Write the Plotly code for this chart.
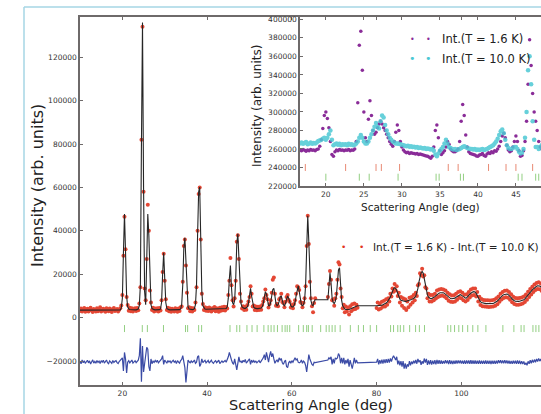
import numpy as np
import plotly.graph_objects as go

# ---------------- main pattern: 2-theta sampling (start, step) per measured segment -------------
SEG_A_START, SEG_B_START, SEG_C_START, STEP = 10.0, 68.5, 80.0, 0.25

calc_a = [3500,3500,3500,3500,3500,3500,3500,3500,
          3500,3500,3500,3500,3500,3500,3500,3500,
          3500,3500,3500,3500,3500,3500,3500,3500,
          3500,3500,3500,3500,3500,3500,3500,3500,
          3500,3500,3500,3500,3500,3500,3600,4500,
          9000,30000,47800,30000,10000,5000,4000,3800,
          3700,3700,3600,3600,3600,3600,3700,4000,
          5500,15000,80000,136000,60000,12000,6000,25000,
          47800,38000,14000,6000,4200,3800,3700,3600,
          3600,3600,3600,3700,4000,7000,20000,29900,
          18000,7000,4200,3800,3700,3600,3600,3600,
          3600,3600,3600,3600,3600,3600,3700,4000,
          6000,15000,32000,36800,25000,10000,5000,4000,
          3800,3700,3700,3800,4200,6000,15000,38000,
          58000,60200,35000,12000,5500,4300,4000,3900,
          3900,3900,3900,3900,3900,3900,3900,3900,
          3900,3900,3900,3900,3900,3900,4000,4100,
          4100,4100,4200,5000,9000,18000,24000,14000,
          7000,6000,8000,18000,34000,38600,26000,12000,
          6500,5000,4500,4300,4300,4500,5000,6500,
          10000,13500,10000,6000,4800,4400,4200,4200,
          4200,4200,4300,4500,5000,6500,9500,12000,
          11000,7500,5500,5500,7000,10000,13000,13500,
          10000,6500,5500,6000,7500,9500,10000,8000,
          6000,5500,6500,8500,10000,9000,6500,5500,
          5000,5000,5500,7000,10000,13500,14700,12000,
          8000,6000,5500,6000,8000,15000,32000,46900,
          35000,15000,8000,6000,5500,7500,8300]
obs_a = [3100,4200,2900,3800,4500,2700,3600,4100,
         2800,3900,4600,3300,2600,4000,3500,2900,
         4300,3000,3700,4800,2800,3400,4100,3200,
         2700,4400,3600,3000,4200,3800,2600,3900,
         4500,3100,3400,4000,2900,3700,4300,5600,
         10500,28500,46500,31500,9500,5800,3200,4600,
         3000,4400,2800,3900,4300,3100,4500,3400,
         6500,14000,82000,134000,58000,13500,8000,27000,
         52000,40000,12500,7000,3500,4600,2900,4200,
         3200,4300,2800,4500,3300,8000,21000,29500,
         17000,8500,3500,4600,3000,4200,2700,4100,
         3300,2900,4400,3800,2700,4200,3100,4800,
         5200,16500,33000,36000,24000,11500,4300,4800,
         3000,4500,2900,4400,3600,7000,14000,40000,
         57000,60000,36000,11000,6300,3500,4800,3200,
         4500,3100,4700,3300,2800,4400,3600,4900,
         3000,4300,3500,2700,4600,3200,4800,3400,
         5000,3300,4900,4200,10500,17000,27500,15000,
         8000,5200,9000,17000,35000,38000,27000,11000,
         7500,4200,5300,3500,5000,3700,5800,7500,
         9500,14500,11000,5200,5600,3600,5100,3400,
         5000,3500,5200,3700,5800,7500,9000,13000,
         10500,8500,4700,6300,8000,11500,17500,18500,
         11000,5500,6400,5300,8500,9000,11000,7200,
         6800,4800,7300,9500,10500,8200,7300,4700,
         5800,4300,6300,8000,11000,14500,14000,12800,
         7200,6800,4800,6900,9000,14500,33000,47000,
         34000,16500,9000,5300,2500,6800,9000]
diff_a = [-20000,-21200,-19500,-20800,-19800,-21000,-20300,-19600,
          -20800,-19900,-21300,-20200,-19400,-20900,-20100,-21000,
          -19700,-20600,-20000,-21100,-19800,-20500,-19600,-20900,
          -20400,-19500,-20700,-21200,-19900,-20300,-21000,-19700,
          -20600,-20100,-19800,-20700,-21100,-20200,-19700,-19000,
          -18500,-24500,-16000,-19000,-25500,-20500,-19800,-20800,
          -20100,-19500,-20900,-20300,-19800,-20700,-20000,-19600,
          -17500,-9500,-29500,-13000,-25000,-20000,-16500,-13600,
          -14500,-22500,-24500,-19000,-21200,-20000,-20600,-19700,
          -20400,-19600,-20800,-20200,-19700,-19000,-17500,-21500,
          -19500,-20300,-21000,-19700,-20400,-19900,-20800,-20100,
          -19600,-20500,-20000,-21100,-19800,-20400,-20900,-19700,
          -19200,-17500,-20000,-23000,-29800,-24500,-19500,-20300,
          -20800,-19900,-20600,-20200,-19500,-21000,-20500,-18000,
          -17500,-22500,-21500,-19000,-20700,-20100,-19600,-20800,
          -20300,-19700,-20900,-20100,-19600,-20600,-21000,-20200,
          -19800,-20700,-20300,-19600,-21100,-20400,-19900,-20600,
          -20200,-19700,-20500,-19500,-18000,-16000,-18500,-19500,
          -20800,-21500,-19000,-22000,-24000,-21000,-18000,-20500,
          -20000,-20800,-19600,-20400,-19200,-20900,-20300,-19700,
          -19000,-21500,-19500,-20600,-19800,-20500,-20000,-20800,
          -20300,-19700,-20800,-20100,-19400,-18500,-17000,-19500,
          -16000,-18500,-20500,-17500,-15500,-18000,-16500,-19000,
          -21000,-20000,-19500,-20500,-18500,-19500,-18800,-20800,
          -21500,-20300,-19500,-22500,-23000,-20800,-20000,-21000,
          -19800,-20500,-19500,-18500,-19500,-19000,-20500,-20800,
          -20500,-19500,-21000,-20000,-20500,-22000,-25000,-19500,
          -17000,-19000,-20500,-21500,-22000,-20500,-20700]

calc_b = [8300,14000,20700,16000,9000,7000,6500,7500,
          10000,16000,22000,23000,15000,8000,5500,4500,
          4000,3800,3700,3700,3800,4000,4200,4500,
          4800,5000,5000,5200,5500]
obs_b = [9500,15500,21500,17500,8000,8500,5500,9000,
         11000,17500,25500,24500,13500,9500,4300,6000,
         2500,5200,2800,4600,1500,5300,3000,6200,
         3800,6500,4000,6000,4600]
diff_b = [-19500,-18500,-19000,-18000,-21500,-19000,-21000,-18500,
          -19000,-18500,-16500,-17500,-21000,-18500,-21000,-18500,
          -21500,-19500,-21000,-19000,-22500,-19500,-21000,-23500,
          -21000,-18500,-21000,-19500,-20800]

calc_c = [5500,5500,5500,5600,5700,5800,6000,6200,
          6500,6800,7200,7800,8500,9500,10800,12200,
          13300,13800,13500,12500,11000,9500,8500,8000,
          7800,7600,7500,7500,7600,7700,7800,8000,
          8200,8400,8600,8900,9300,10000,11500,13500,
          16500,19000,20700,21300,20500,18000,15000,12500,
          10500,9500,9000,8800,8800,9000,9300,9700,
          10100,10600,11000,11300,11500,11600,11600,11500,
          11200,10800,10300,9800,9300,9000,8800,8700,
          8700,8800,9000,9400,9800,10200,10500,10600,
          10400,10000,9500,9100,9000,9200,9600,10200,
          10800,11300,11700,11900,12000,11800,11200,10200,
          9000,8000,7400,7000,6800,6700,6600,6500,
          6500,6500,6400,6400,6400,6500,6600,6800,
          7000,7300,7700,8200,8800,9400,9900,10300,
          10600,10800,10900,10900,10700,10300,9800,9200,
          8600,8100,7800,7600,7500,7500,7500,7600,
          7700,7800,8000,8300,8700,9200,9800,10400,
          11000,11600,12200,12800,13300,13800,14200,14500,
          14700,14800,14600,14200,13800,13400,13000,12600]
obs_c = [4500,7000,3800,6500,4200,7300,5000,7800,
         5200,8500,6000,9000,7500,11000,9800,13500,
         12000,15500,12500,14500,10000,11500,7000,9500,
         5500,9000,4500,8500,3500,7500,4800,9200,
         6000,9500,7000,10500,8000,11500,10000,15000,
         15500,20500,19500,22500,19000,19500,14000,13500,
         9000,11000,7500,10500,7500,10500,8000,11000,
         8800,12500,9500,13000,10000,13200,10200,13000,
         9800,12500,9000,11500,7800,10800,7300,10200,
         7200,10300,7500,11000,8300,11800,9200,12200,
         9000,11500,8000,10600,7500,10800,8200,11800,
         9300,13000,10200,13500,10500,13400,9800,11800,
         7500,9600,5900,8600,5300,8200,5200,8000,
         5000,8000,4900,7900,5000,8000,5100,8300,
         5500,8900,6200,9800,7300,11000,8400,11800,
         9100,12400,9400,12500,9200,11800,8300,10800,
         7100,9600,6300,9100,6000,9000,6000,9100,
         6200,9300,6500,9800,7200,10700,8300,12000,
         9500,13200,10700,14300,11800,15300,12700,16000,
         13200,16300,13100,15700,12300,14900,11500,14100]
diff_c = [-20500,-19000,-21500,-19600,-21100,-19300,-21200,-19200,
          -20900,-19100,-20800,-19000,-20700,-18800,-20200,-18600,
          -17500,-18500,-19500,-18000,-21500,-19800,-22000,-20000,
          -22500,-20000,-23500,-21000,-23500,-21500,-22500,-20000,
          -21900,-20200,-21300,-19800,-21000,-19500,-21200,-19000,
          -20500,-19600,-21700,-20000,-21200,-18800,-20700,-19000,
          -21700,-19700,-21500,-19600,-21600,-19800,-21400,-19600,
          -21500,-19400,-21200,-19600,-21300,-19700,-21200,-19900,
          -21100,-19600,-21000,-19700,-21400,-19600,-21300,-19800,
          -21400,-19800,-21200,-19700,-21100,-19700,-21000,-19700,
          -21100,-19800,-21200,-19700,-21300,-19700,-21100,-19700,
          -21200,-19600,-21200,-19700,-21200,-19700,-21200,-19800,
          -21200,-19700,-21200,-19800,-21200,-19800,-21200,-19700,
          -21200,-19800,-21200,-19800,-21300,-19800,-21200,-19800,
          -21200,-19800,-21100,-19600,-20900,-19600,-21000,-19700,
          -21000,-19600,-21000,-19700,-21100,-19800,-21200,-19900,
          -21200,-19800,-21100,-19800,-21200,-19700,-21200,-19800,
          -21300,-20000,-21400,-20100,-21700,-20800,-21900,-20100,
          -21200,-19600,-21000,-19400,-20700,-19300,-20500,-19000,
          -20200,-18800,-20000,-19000,-20500,-19400,-20700,-19600]

# Bragg reflection positions (deg)
hkl_main = [20.5, 24.7, 25.9, 29.7, 34.9, 35.4, 38.0, 38.7, 45.4, 47.0, 47.7, 49.4,
            50.6, 51.8, 53.4, 54.4, 55.1, 55.8, 56.6, 57.7, 58.4, 58.9, 59.5, 61.6,
            62.7, 63.5, 63.9, 64.8, 66.8, 68.1, 68.8, 69.5, 70.2, 71.4, 73.8, 75.7,
            76.9, 78.5, 80.0, 83.3, 84.0, 85.0, 85.6, 86.4, 87.8, 89.2, 90.1, 91.3,
            96.8, 97.5, 98.4, 99.4, 100.3, 101.5, 102.7, 103.9, 105.8, 109.8, 112.4,
            114.1, 114.8, 116.9, 117.6, 118.3]

# ---------------- inset: raw intensities at 1.6 K and 10.0 K --------------------------------
INSET_START, INSET_STEP = 16.6, 0.2
int_16K = [259000,258000,259500,258500,257500,259000,258000,259500,258500,259000,
           258000,259500,260000,263000,270000,282000,296000,300000,293000,283000,
           268000,254000,252000,257000,259000,258000,259500,258500,259000,258000,
           259000,258500,259500,258000,259000,258500,260000,268000,310000,372000,
           387000,345000,300000,272000,268000,292000,312000,296000,280000,276000,
           278000,283000,287000,290000,287000,283000,280000,276000,272000,268000,
           265000,263000,268000,278000,286000,280000,268000,262000,259000,257000,
           256000,256500,255000,256000,255500,255000,254500,255000,254000,254500,
           254000,253500,253000,252500,252000,251000,250000,252000,262000,280000,
           286000,272000,258000,254000,256000,258000,262000,268000,265000,260000,
           258000,257000,257000,258000,260000,268000,290000,308000,296000,275000,
           262000,257000,255000,254500,254000,253500,252500,252000,253500,254000,
           255000,253000,252000,254500,256000,255000,257000,256000,258000,257500,
           260000,263000,268000,274000,277000,272000,264000,259000,257000,258000,
           262000,268000,274000,268000,258000,252000,253000,258000,268000,290000,
           330000,378000,350000,320000,300000,290000,280000,268000,262000,260000]
int_10K = [266000,267000,265500,266500,267500,265000,266000,267000,265500,266500,
           266000,267000,268500,269000,270000,271000,272000,270000,272000,276000,
           280000,270000,264000,265000,266000,264500,265500,264000,265000,264500,
           265000,264000,265500,264500,265000,264000,264500,266000,268000,272000,
           275000,272000,268000,266000,266000,268000,272000,276000,280000,284000,
           288000,284000,282000,290000,296000,294000,286000,280000,276000,272000,
           270000,268000,267000,266000,266000,265500,265000,264500,264000,263500,
           263000,263500,262500,263000,262000,262500,261500,262000,261000,261500,
           261000,260500,261000,260000,260500,260000,259500,260000,258000,254000,
           252000,255000,258000,260000,262000,266000,270000,266000,262000,261000,
           260000,259500,260000,259000,259500,260000,261000,262000,263000,262000,
           261000,260500,260000,260000,259500,260000,259000,259500,259000,259500,
           260000,259000,259500,260000,261000,262000,263000,264000,266000,268000,
           271000,275000,279000,281000,277000,270000,264000,261000,260000,260000,
           261000,262000,262000,260000,257000,255000,256000,260000,272000,300000,
           345000,360000,330000,290000,270000,262000,262000,260000,262000,264000]
hkl_inset_red = [17.3, 22.6, 26.6, 27.3, 29.7, 36.1, 37.4, 41.4, 43.7, 45.0, 47.2]
hkl_inset_green = [20.0, 24.4, 25.7, 29.5, 34.5, 34.9, 37.7, 38.1, 45.3, 45.8, 47.6, 48.0]

# ---------------- styling / geometry ----------------
W, H = 541, 414
L, R, T, B = 80, 541, 17, 385          # main plot box in pixels
IN_L, IN_T, IN_B = 300, 17, 186        # inset box in pixels
FONT = "DejaVu Sans"
RED, BLACK, BLUE, GREEN = "#e2341f", "#262626", "#3b4ba6", "#93cf82"
PURPLE, CYAN = "#8a2c98", "#4cc8d4"
TICKRED = "#e88a74"
AX = "#6e6a6a"
TICK_Y_MAIN = -5000
TICK_Y_RED, TICK_Y_GREEN = 240000, 229500


def grid(start, vals):
    return start + STEP * np.arange(len(vals))


x_all = np.concatenate([grid(SEG_A_START, calc_a), grid(SEG_B_START, calc_b), grid(SEG_C_START, calc_c)])
xo_all = np.concatenate([grid(SEG_A_START, obs_a), grid(SEG_B_START, obs_b), grid(SEG_C_START, obs_c)])
xd_all = np.concatenate([grid(SEG_A_START, diff_a), grid(SEG_B_START, diff_b), grid(SEG_C_START, diff_c)])
calc_all = calc_a + calc_b + calc_c
obs_all = obs_a + obs_b + obs_c
diff_all = diff_a + diff_b + diff_c

xi16 = INSET_START + INSET_STEP * np.arange(len(int_16K))
xi10 = INSET_START + INSET_STEP * np.arange(len(int_10K))

fig = go.Figure()
fig.add_trace(go.Scatter(x=xo_all, y=obs_all, mode="markers",
                         marker=dict(color=RED, size=4, line=dict(width=0)), opacity=0.9))
fig.add_trace(go.Scatter(x=x_all, y=calc_all, mode="lines", line=dict(color=BLACK, width=1.1)))
fig.add_trace(go.Scatter(x=xd_all, y=diff_all, mode="lines", line=dict(color=BLUE, width=1.2)))
fig.add_trace(go.Scatter(x=hkl_main, y=[TICK_Y_MAIN] * len(hkl_main), mode="markers",
                         marker=dict(symbol="line-ns-open", size=5, color=GREEN, line=dict(width=1))))

# inset
fig.add_trace(go.Scatter(x=xi16, y=int_16K, mode="markers", xaxis="x2", yaxis="y2",
                         marker=dict(color=PURPLE, size=3.5, line=dict(width=0))))
fig.add_trace(go.Scatter(x=xi10, y=int_10K, mode="markers", xaxis="x2", yaxis="y2",
                         marker=dict(color=CYAN, size=4.5, line=dict(width=0)), opacity=0.85))
fig.add_trace(go.Scatter(x=hkl_inset_red, y=[TICK_Y_RED] * len(hkl_inset_red), mode="markers",
                         xaxis="x2", yaxis="y2",
                         marker=dict(symbol="line-ns-open", size=5, color=TICKRED, line=dict(width=1))))
fig.add_trace(go.Scatter(x=hkl_inset_green, y=[TICK_Y_GREEN] * len(hkl_inset_green), mode="markers",
                         xaxis="x2", yaxis="y2",
                         marker=dict(symbol="line-ns-open", size=5, color=GREEN, line=dict(width=1))))

pw, ph = R - L, B - T


def px(xp):
    return (xp - L) / pw


def py(yp):
    return (B - yp) / ph


tickfont = dict(family=FONT, size=7.5, color="#333333")
axcommon = dict(showgrid=False, zeroline=False, showline=True, linecolor=AX, linewidth=1.5,
                ticks="inside", ticklen=3, tickcolor=AX, tickwidth=1, tickfont=tickfont)

fig.update_layout(
    width=W, height=H, margin=dict(l=L, r=W - R, t=T, b=H - B),
    paper_bgcolor="white", plot_bgcolor="rgba(0,0,0,0)", showlegend=False,
    font=dict(family=FONT),
    xaxis=dict(range=[10, 118.8], domain=[0, 1], tickvals=[20, 40, 60, 80, 100],
               mirror="ticks", **axcommon),
    yaxis=dict(range=[-31000, 138500], domain=[0, 1], tickformat="d",
               tickvals=[-20000, 0, 20000, 40000, 60000, 80000, 100000, 120000], **axcommon),
    xaxis2=dict(range=[16.6, 48.3], domain=[px(IN_L), 1], anchor="y2",
                tickvals=[20, 25, 30, 35, 40, 45], mirror="ticks", **axcommon),
    yaxis2=dict(range=[220000, 402500], domain=[py(IN_B), py(IN_T)], anchor="x2", tickformat="d",
                tickvals=list(range(220000, 400001, 20000)), **axcommon),
)

shapes = [
    # white backing of the inset
    dict(type="rect", xref="paper", yref="paper", x0=px(IN_L), x1=1, y0=py(IN_B), y1=py(IN_T),
         fillcolor="white", line=dict(width=0), layer="below"),
    # page frame
    dict(type="line", xref="paper", yref="paper", x0=px(24), x1=px(24), y0=py(414), y1=py(7),
         line=dict(color="#a6d6e4", width=1.5)),
    dict(type="line", xref="paper", yref="paper", x0=px(24), x1=px(541), y0=py(7), y1=py(7),
         line=dict(color="#a6d6e4", width=1.5)),
]
fig.update_layout(shapes=shapes)

ann = []
def txt(x, y, s, size, color="#222222", angle=0, xanchor="center"):
    ann.append(dict(x=px(x), y=py(y), xref="paper", yref="paper", text=s, showarrow=False,
                    textangle=angle, xanchor=xanchor, yanchor="middle",
                    font=dict(family=FONT, size=size, color=color)))

txt(37, 186, "Intensity (arb. units)", 16, angle=-90)
txt(311, 405, "Scattering Angle (deg)", 14.5)
txt(257, 106, "Intensity (arb. units)", 12, angle=-90)
txt(420, 207, "Scattering Angle (deg)", 10.5)
# main legend
txt(343, 247, "•", 9, color=RED)
txt(361, 247, "•", 9, color=RED)
txt(371, 247, "Int.(T = 1.6 K) - Int.(T = 10.0 K)", 10.5, xanchor="left")
# inset legend
txt(412, 39, "•", 8, color=PURPLE)
txt(428, 39, "•", 8, color=PURPLE)
txt(440, 39, "Int.(T = 1.6 K)", 11.5, xanchor="left")
txt(412, 59, "•", 11, color=CYAN)
txt(428, 59, "•", 11, color=CYAN)
txt(440, 59, "Int.(T = 10.0 K)", 11.5, xanchor="left")
fig.update_layout(annotations=ann)

fig.write_html("out.html")
